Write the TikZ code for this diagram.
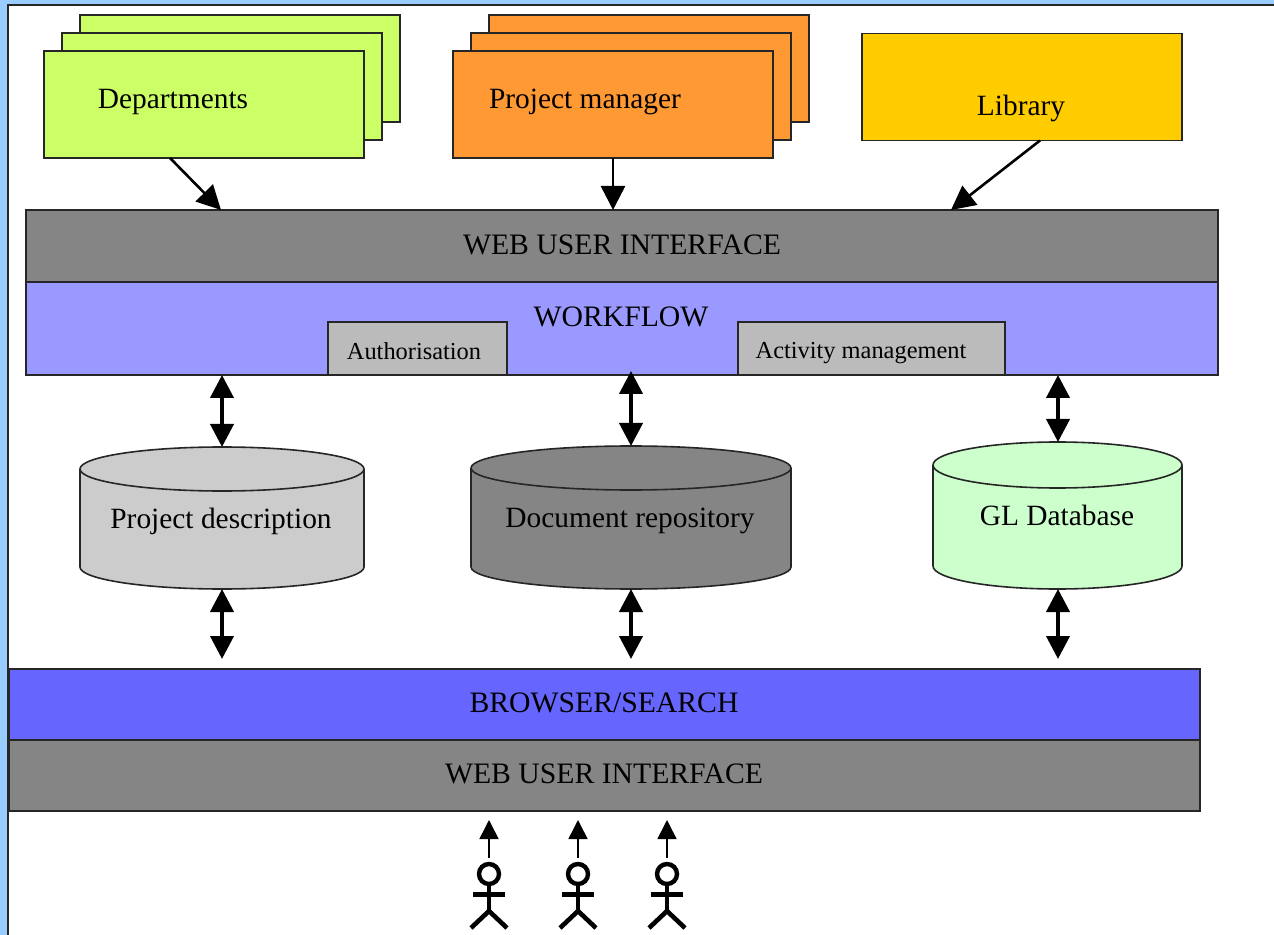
\documentclass[tikz,border=0pt]{standalone}
\usepackage{fontspec}
\setmainfont{Liberation Serif}
\usetikzlibrary{arrows.meta}
\definecolor{bgblue}{HTML}{99CCFF}
\definecolor{deptgreen}{HTML}{CCFF66}
\definecolor{pmorange}{HTML}{FF9933}
\definecolor{libyellow}{HTML}{FFCC00}
\definecolor{webgrey}{HTML}{858585}
\definecolor{wfblue}{HTML}{9999FF}
\definecolor{subgrey}{HTML}{BBBBBB}
\definecolor{brblue}{HTML}{6666FF}
\definecolor{glgreen}{HTML}{CCFFCC}
\definecolor{pdgrey}{HTML}{CCCCCC}
\newcommand{\cylbody}[4]{% node, fill, x radius (pt), y radius (pt)
  \draw[cylline,fill=#2] ([yshift=-#4]#1.north west) -- ([yshift=#4]#1.south west)
    arc[start angle=180,end angle=360,x radius=#3,y radius=#4]
    -- ([yshift=-#4]#1.north east)
    arc[start angle=0,end angle=180,x radius=#3,y radius=#4]
    arc[start angle=180,end angle=360,x radius=#3,y radius=#4];
}
\tikzset{
  x=0.5pt,y=-0.5pt,
  boxn/.style={draw=black!85,line width=0.8pt,rectangle,inner sep=0pt,outer sep=0pt},
  stackbox/.style={boxn,minimum width=160pt,minimum height=53.5pt},
  band/.style={boxn,minimum width=596pt,minimum height=36pt,fill=webgrey},
  lab/.style={font=\fontsize{14.7pt}{17pt}\selectfont,inner sep=0pt,text=black},
  lablarge/.style={font=\fontsize{14.85pt}{17pt}\selectfont,inner sep=0pt,text=black},
  labsmall/.style={font=\fontsize{12.2pt}{14pt}\selectfont,inner sep=0pt,text=black},
  cylframe/.style={rectangle,inner sep=0pt,outer sep=0pt},
  cylline/.style={draw=black!85,line width=0.8pt,line join=round},
  thinarrow/.style={draw=black,line width=1.3pt,-{Triangle[width=12pt,length=12pt]}},
  dblarrow/.style={draw=black,line width=2pt,{Triangle[width=11.5pt,length=11.5pt]}-{Triangle[width=11.5pt,length=11.5pt]}},
  uparrow/.style={draw=black,line width=0.8pt,-{Triangle[width=9.5pt,length=9.5pt]}},
  stick/.style={draw=black,line width=2.3pt},
  headn/.style={circle,draw=black,line width=2.2pt,minimum size=10pt,inner sep=0pt,outer sep=0pt}
}
\begin{document}
\begin{tikzpicture}
\useasboundingbox (0,0) rectangle (1274,935);
\fill[bgblue] (0,0) rectangle (1274,935);
\fill[white] (8,5) rectangle (1274,935);
\draw[black!85,line width=0.8pt] (1274,5) -- (8,5) -- (8,935);

\node[stackbox,fill=deptgreen] (d3) at (240,68.5) {};
\node[stackbox,fill=deptgreen] (d2) at (222,86.5) {};
\node[stackbox,fill=deptgreen] (dept) at (204,104.5) {};
\node[lab] (deptT) at (173,102) {Departments};

\node[stackbox,fill=pmorange] (p3) at (649,68.5) {};
\node[stackbox,fill=pmorange] (p2) at (631,86.5) {};
\node[stackbox,fill=pmorange] (pm) at (613,104.5) {};
\node[lab] (pmT) at (585,102) {Project manager};

\node[stackbox,fill=libyellow] (lib) at (1022,87) {};
\node[lab] (libT) at (1021,108) {Library};

\node[boxn,fill=wfblue,minimum width=596pt,minimum height=46.5pt] (wf) at (622,328.5) {};
\node[band] (web1) at (622,246) {};
\node[lablarge] (web1T) at (622,245) {WEB USER INTERFACE};
\node[lablarge] (wfT) at (621,317) {WORKFLOW};
\node[boxn,fill=subgrey,minimum width=89.5pt,minimum height=26.5pt] (auth) at (417.5,348.5) {};
\node[labsmall] (authT) at (414,351) {Authorisation};
\node[boxn,fill=subgrey,minimum width=133.5pt,minimum height=26.5pt] (act) at (871.5,348.5) {};
\node[labsmall] (actT) at (861,353) {Activity management};

\node[cylframe,minimum width=142pt,minimum height=71pt] (pd) at (222,518) {};
\cylbody{pd}{pdgrey}{71pt}{11pt}
\node[lab] (pdT) at (221,521) {Project description};
\node[cylframe,minimum width=160pt,minimum height=71.5pt] (dr) at (631,517.5) {};
\cylbody{dr}{webgrey}{80pt}{11pt}
\node[lab] (drT) at (630,520.5) {Document repository};
\node[cylframe,minimum width=124.5pt,minimum height=73.5pt] (gl) at (1057.5,515.5) {};
\cylbody{gl}{glgreen}{62.25pt}{11.5pt}
\node[lab] (glT) at (1057,515) {GL Database};

\node[boxn,fill=brblue,minimum width=595.5pt,minimum height=35.5pt] (br) at (604.5,704.5) {};
\node[lablarge] (brT) at (604,703) {BROWSER/SEARCH};
\node[boxn,fill=webgrey,minimum width=595.5pt,minimum height=35.5pt] (web2) at (604.5,775.5) {};
\node[lablarge] (web2T) at (604,774) {WEB USER INTERFACE};

\draw[thinarrow] (170,0 |- dept.south) -- (221,0 |- web1.north);
\draw[thinarrow] (613,0 |- pm.south) -- (613,0 |- web1.north);
\draw[thinarrow] (1040,0 |- lib.south) -- (951,0 |- web1.north);

\draw[dblarrow] (222,0 |- wf.south) -- (222,0 |- pd.north);
\draw[dblarrow] (631,371) -- (631,0 |- dr.north);
\draw[dblarrow] (1058,0 |- wf.south) -- (1058,0 |- gl.north);
\draw[dblarrow,shorten >=5pt] (222,0 |- pd.south) -- (222,0 |- br.north);
\draw[dblarrow,shorten >=5pt] (631,0 |- dr.south) -- (631,0 |- br.north);
\draw[dblarrow,shorten >=5pt] (1058,0 |- gl.south) -- (1058,0 |- br.north);

\foreach \i/\px in {1/489,2/578,3/667}{
  \node[headn] (h\i) at (\px,874) {};
  \draw[stick] (h\i.south) -- (\px,911);
  \draw[stick,line width=2.5pt] (\px-16,894) -- (\px+16,894);
  \draw[stick] (\px-18,928) -- (\px,911) -- (\px+18,928);
  \draw[uparrow,shorten <=3pt,shorten >=4.5pt] (h\i.north) -- (\px,0 |- web2.south);
}
\end{tikzpicture}
\end{document}
